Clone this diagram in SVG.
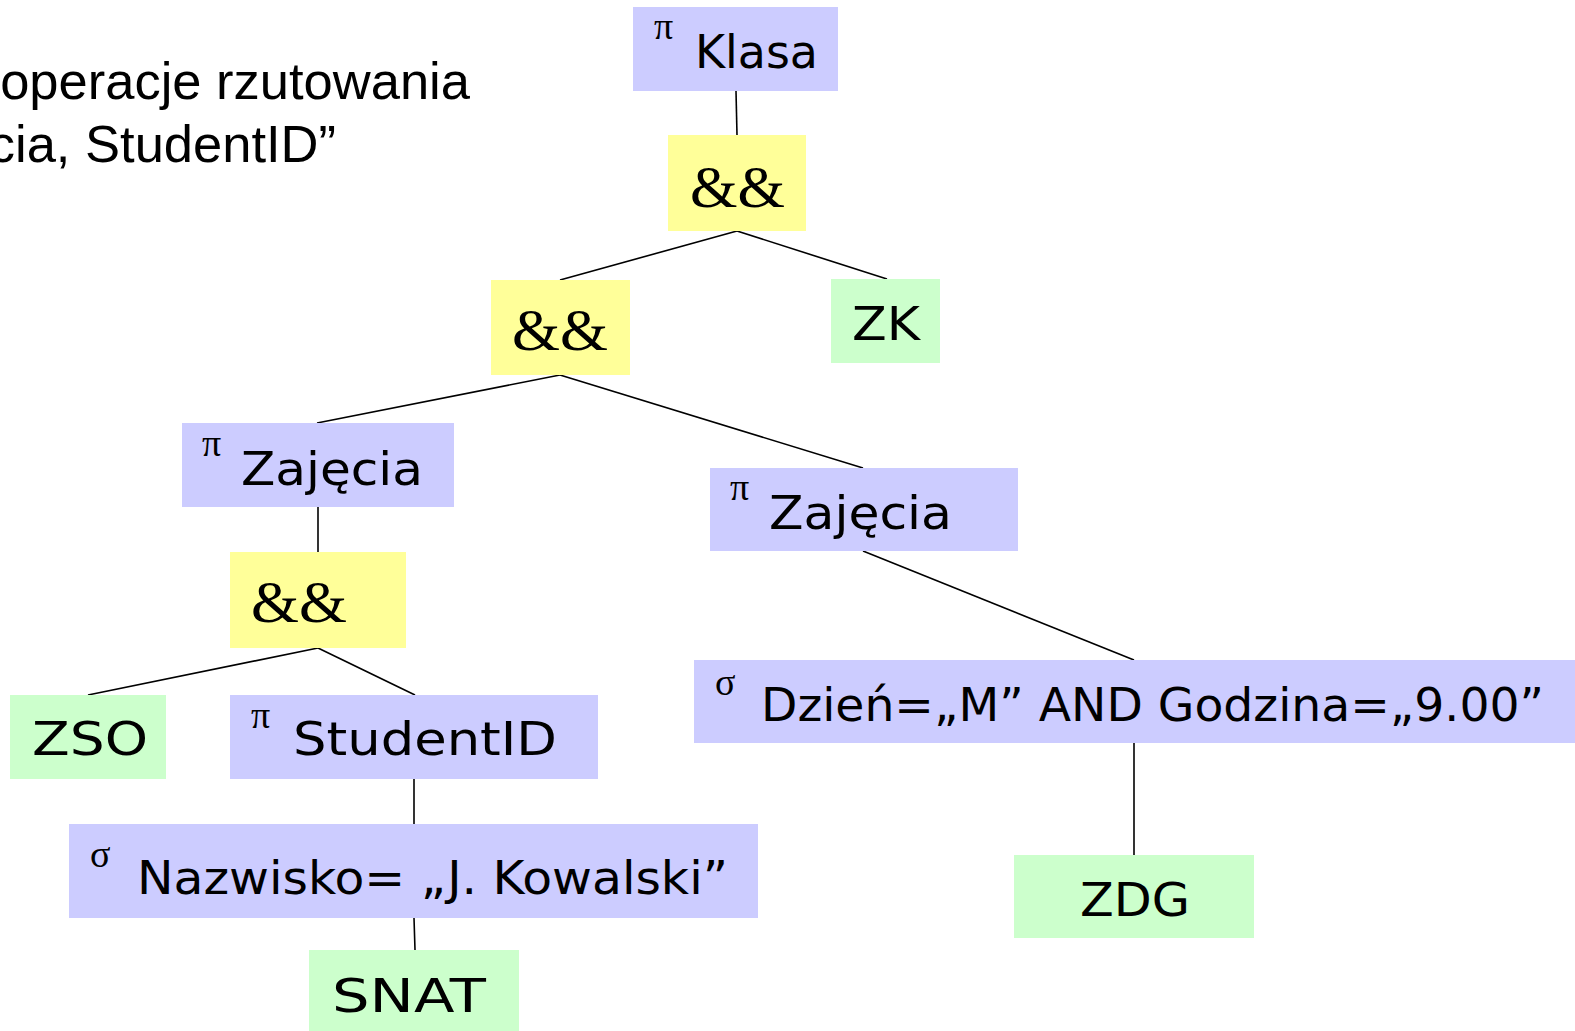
<svg xmlns="http://www.w3.org/2000/svg" width="1575" height="1031" viewBox="0 0 1575 1031">
<style>
.p{fill:#CCCCFF}.y{fill:#FFFF99}.g{fill:#CCFFCC}
.t{font-family:"DejaVu Sans","Liberation Sans",sans-serif;font-size:46px;fill:#000}
.s{font-family:"Liberation Serif","DejaVu Serif",serif;font-size:38px;fill:#000}
.a{font-family:"Liberation Serif","DejaVu Serif",serif;font-size:60px;fill:#000}
.h{font-family:"Liberation Sans",Arial,sans-serif;font-size:52.5px;fill:#000}
#edges line{stroke:#000;stroke-width:1.6}
</style>
<rect width="1575" height="1031" fill="#fff"/>
<g id="title">
<text class="h" x="470" y="99" text-anchor="end">operacje rzutowania</text>
<text class="h" x="336" y="162" text-anchor="end">cia, StudentID”</text>
</g>
<g id="edges">
<line x1="736" y1="91" x2="737" y2="135"/>
<line x1="737" y1="231" x2="560" y2="280"/>
<line x1="737" y1="231" x2="887" y2="279"/>
<line x1="560" y1="375" x2="317" y2="423"/>
<line x1="560" y1="375" x2="863" y2="468"/>
<line x1="318" y1="507" x2="318" y2="552"/>
<line x1="318" y1="648" x2="88" y2="695"/>
<line x1="318" y1="648" x2="415" y2="695"/>
<line x1="414" y1="779" x2="414" y2="824"/>
<line x1="414" y1="918" x2="415" y2="950"/>
<line x1="863" y1="551" x2="1134" y2="660"/>
<line x1="1134" y1="743" x2="1134" y2="855"/>
</g>
<g id="n-klasa">
<rect class="p" x="633" y="7" width="205" height="84"/>
<text class="s" x="654" y="39">π</text>
<text class="t" x="695" y="68" textLength="123" lengthAdjust="spacingAndGlyphs">Klasa</text>
</g>
<g id="n-and1">
<rect class="y" x="668" y="135" width="138" height="96"/>
<text class="a" x="690" y="207" textLength="95" lengthAdjust="spacingAndGlyphs">&amp;&amp;</text>
</g>
<g id="n-zk">
<rect class="g" x="831" y="279" width="109" height="84"/>
<text class="t" x="852" y="340" textLength="68" lengthAdjust="spacingAndGlyphs">ZK</text>
</g>
<g id="n-and2">
<rect class="y" x="491" y="280" width="139" height="95"/>
<text class="a" x="512" y="350" textLength="96" lengthAdjust="spacingAndGlyphs">&amp;&amp;</text>
</g>
<g id="n-zajecia1">
<rect class="p" x="182" y="423" width="272" height="84"/>
<text class="s" x="202" y="456">π</text>
<text class="t" x="241" y="485" textLength="182" lengthAdjust="spacingAndGlyphs">Zajęcia</text>
</g>
<g id="n-zajecia2">
<rect class="p" x="710" y="468" width="308" height="83"/>
<text class="s" x="730" y="500">π</text>
<text class="t" x="769" y="529" textLength="183" lengthAdjust="spacingAndGlyphs">Zajęcia</text>
</g>
<g id="n-and3">
<rect class="y" x="230" y="552" width="176" height="96"/>
<text class="a" x="251" y="622" textLength="96" lengthAdjust="spacingAndGlyphs">&amp;&amp;</text>
</g>
<g id="n-zso">
<rect class="g" x="10" y="695" width="156" height="84"/>
<text class="t" x="32" y="755" textLength="116" lengthAdjust="spacingAndGlyphs">ZSO</text>
</g>
<g id="n-studentid">
<rect class="p" x="230" y="695" width="368" height="84"/>
<text class="s" x="251" y="728">π</text>
<text class="t" x="293" y="755" textLength="264" lengthAdjust="spacingAndGlyphs">StudentID</text>
</g>
<g id="n-nazwisko">
<rect class="p" x="69" y="824" width="689" height="94"/>
<text class="s" x="90" y="867">σ</text>
<text class="t" x="137" y="894" textLength="591" lengthAdjust="spacingAndGlyphs">Nazwisko= „J. Kowalski”</text>
</g>
<g id="n-snat">
<rect class="g" x="309" y="950" width="210" height="81"/>
<text class="t" x="332" y="1012" textLength="154" lengthAdjust="spacingAndGlyphs">SNAT</text>
</g>
<g id="n-dzien">
<rect class="p" x="694" y="660" width="881" height="83"/>
<text class="s" x="715" y="695">σ</text>
<text class="t" x="761" y="721" textLength="783" lengthAdjust="spacingAndGlyphs">Dzień=„M” AND Godzina=„9.00”</text>
</g>
<g id="n-zdg">
<rect class="g" x="1014" y="855" width="240" height="83"/>
<text class="t" x="1080" y="916" textLength="110" lengthAdjust="spacingAndGlyphs">ZDG</text>
</g>
</svg>
